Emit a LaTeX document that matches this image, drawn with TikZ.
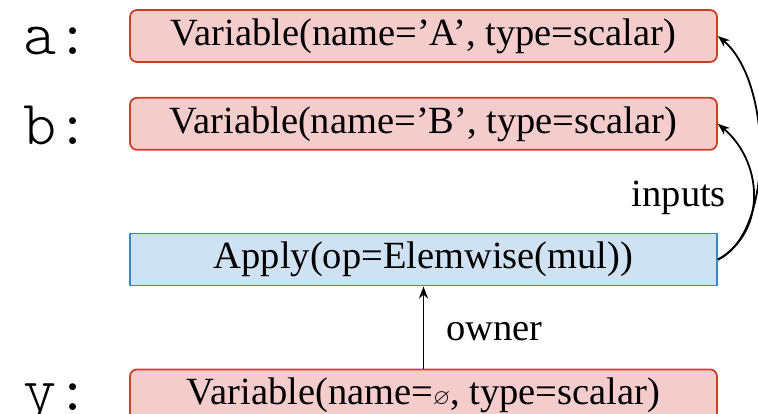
\documentclass[tikz,border=0pt]{standalone}
\usepackage{amssymb}
\usepackage{fontspec}
\setmainfont{Liberation Serif}
\usetikzlibrary{arrows.meta,positioning}
\definecolor{varfill}{HTML}{F4CCCC}
\definecolor{varline}{HTML}{CC4125}
\definecolor{appfill}{HTML}{CFE2F3}
\definecolor{appline}{HTML}{3D85C6}
\begin{document}
\begin{tikzpicture}[
  font=\fontsize{38.5}{46}\selectfont,
  var/.style={draw=varline, fill=varfill, line width=1.8pt, rounded corners=7pt,
    minimum width=587pt, minimum height=52pt, inner sep=0pt},
  app/.style={draw=appline, fill=appfill, line width=1.8pt,
    minimum width=587pt, minimum height=52pt, inner sep=0pt},
  vname/.style={font=\fontsize{63}{72}\ttfamily\fontseries{l}\selectfont, inner sep=0pt},
  lbl/.style={inner sep=0pt},
  arr/.style={line width=1.8pt, -{Stealth[length=12pt, width=9pt]}}]
\useasboundingbox (-423.5pt,36pt) rectangle (334.5pt,-378pt);
% Variables and the apply node
\node[var] (a) {Variable(name='A', type=scalar)};
\node[var, below=34pt of a] (b) {Variable(name='B', type=scalar)};
\node[app, below=82pt of b] (apply) {Apply(op=Elemwise(mul))};
\node[var, below=82pt of apply] (y) {Variable(name={\fontsize{22}{26}\selectfont$\varnothing$}, type=scalar)};
% Python names
\node[vname, base left=39pt of a, yshift=-9pt] (la) {a:};
\node[vname, base left=39pt of b, yshift=-11pt] (lb) {b:};
\node[vname, base left=39pt of y, yshift=-6pt] (ly) {y:};
% Inputs
\draw[arr] (apply.east) .. controls +(25:62pt) and +(-40:72pt) .. (a.east);
\draw[arr] (apply.east) .. controls +(30:58pt) and +(-40:58pt) .. (b.east);
\node[lbl, above=18pt of apply.north east, xshift=-39pt] (inputs) {inputs};
% Owner
\draw[arr] (y) -- node[lbl, right=22pt, yshift=-4pt] (owner) {owner} (apply);
\end{tikzpicture}
\end{document}
